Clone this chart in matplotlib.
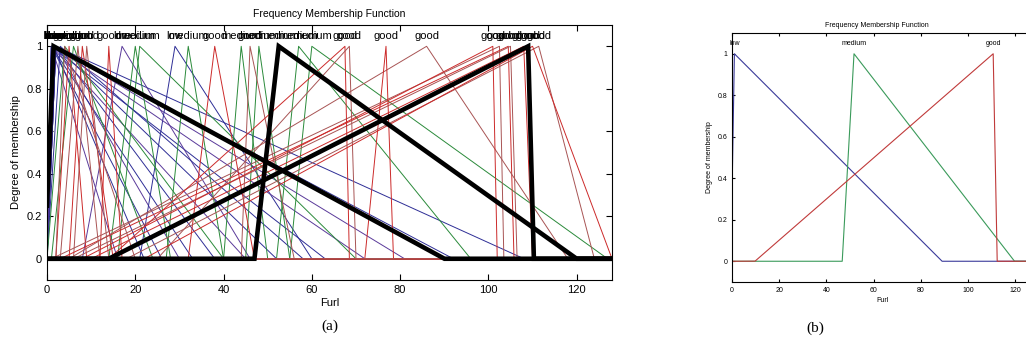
import numpy as np
import matplotlib.pyplot as plt

# panel (a): many overlaid membership sets, triangles as [left foot, peak, right foot]
low_a = [[0, 1, 16], [0, 1.5, 22], [0, 1, 26], [0, 2, 30], [0, 1, 33], [0, 2, 38],
         [0, 1, 45], [0, 2, 52], [0, 1, 63], [0, 2, 81], [0, 1, 92], [0, 2, 108],
         [8, 17, 46], [21, 29, 60], [0, 3, 58], [0, 1.5, 72]]
medium_a = [[14, 20, 28], [27, 32, 40], [40, 44, 50], [45, 48, 55], [55, 60, 127],
            [52, 57, 96], [0, 4, 40], [1, 6, 24], [16, 21, 70]]
good_a = [[2, 5, 9], [3, 7, 12], [5, 8, 15], [6, 9, 14], [12, 14, 17], [1, 102.5, 103.5],
          [3, 104.5, 105.8], [6, 105, 106.5], [10, 108, 110], [5, 86, 118],
          [32, 38, 47], [44, 46, 56], [14, 67.5, 68.5], [25, 68.5, 70], [72, 76.8, 78.5],
          [18, 111.4, 124], [22, 110, 128], [2, 4, 20], [8, 101, 102]]
final_a = {'low': [-0.5, 1.5, 90], 'medium': [47, 52.5, 120], 'good': [14, 109, 110.3]}

# panel (b): final membership functions
names_b = ['low', 'medium', 'good']
tri_b = [[-0.5, 1, 89], [46.7, 51.7, 119.7], [9.7, 110.7, 112.4]]
colors_b = ['#3a3a9a', '#3a9a5a', '#c03a3a']

x = np.linspace(0, 128, 2561)


def trimf(x, p):
    a, b, c = p
    left = (x - a) / (b - a)
    right = (c - x) / (c - b)
    return np.clip(np.minimum(left, right), 0, 1)


def style_axes(ax, fs):
    ax.set_xlim(0, 128)
    ax.set_ylim(-0.1, 1.1)
    ax.set_xticks([0, 20, 40, 60, 80, 100, 120])
    ax.set_yticks([0, 0.2, 0.4, 0.6, 0.8, 1])
    ax.set_yticklabels(['0', '0.2', '0.4', '0.6', '0.8', '1'])
    ax.tick_params(direction='in', top=True, right=True, labelsize=fs, length=4)
    for s in ax.spines.values():
        s.set_linewidth(0.8)


plt.rcParams['font.family'] = ['Liberation Sans', 'DejaVu Sans']
fig = plt.figure(figsize=(10.26, 3.45), dpi=100)

ax = fig.add_axes([0.0458, 0.1884, 0.5507, 0.739])
reds = ['#cc2a2a', '#a85454']
for i, p in enumerate(low_a):
    ax.plot(x, trimf(x, p), color='#2e2e96' if i % 3 else '#5a3a9a', lw=0.7)
    ax.text(p[1], 1.05, 'low', ha='center', va='center', fontsize=8)
for i, p in enumerate(medium_a):
    ax.plot(x, trimf(x, p), color='#2a8a3a', lw=0.7)
    ax.text(p[1], 1.05, 'medium', ha='center', va='center', fontsize=8)
for i, p in enumerate(good_a):
    ax.plot(x, trimf(x, p), color=reds[i % 2], lw=0.7)
    ax.text(p[1], 1.05, 'good', ha='center', va='center', fontsize=8)
for name, p in final_a.items():
    ax.plot(x, trimf(x, p), color='black', lw=3.3, solid_joinstyle='miter')
    ax.text(p[1], 1.05, name, ha='center', va='center', fontsize=8)
style_axes(ax, 8)
ax.set_title('Frequency Membership Function', fontsize=7.5, pad=6)
ax.set_xlabel('Furl', fontsize=8, labelpad=2)
ax.set_ylabel('Degree of membership', fontsize=8, labelpad=4)

bx = fig.add_axes([0.7135, 0.1826, 0.2943, 0.7217])
for name, p, c in zip(names_b, tri_b, colors_b):
    bx.plot(x, trimf(x, p), color=c, lw=0.8)
    bx.text(p[1], 1.05, name, ha='center', va='center', fontsize=5)
style_axes(bx, 5)
bx.tick_params(length=2.5)
bx.set_title('Frequency Membership Function', fontsize=5, pad=4, x=0.48)
bx.set_xlabel('Furl', fontsize=5, labelpad=2)
bx.set_ylabel('Degree of membership', fontsize=5, labelpad=3)

fig.text(330 / 1026, 1 - 326 / 345, '(a)', family='Liberation Serif', fontsize=11,
         ha='center', va='center')
fig.text(815 / 1026, 1 - 328 / 345, '(b)', family='Liberation Serif', fontsize=11,
         ha='center', va='center')

fig.savefig('out.png', dpi=100)
